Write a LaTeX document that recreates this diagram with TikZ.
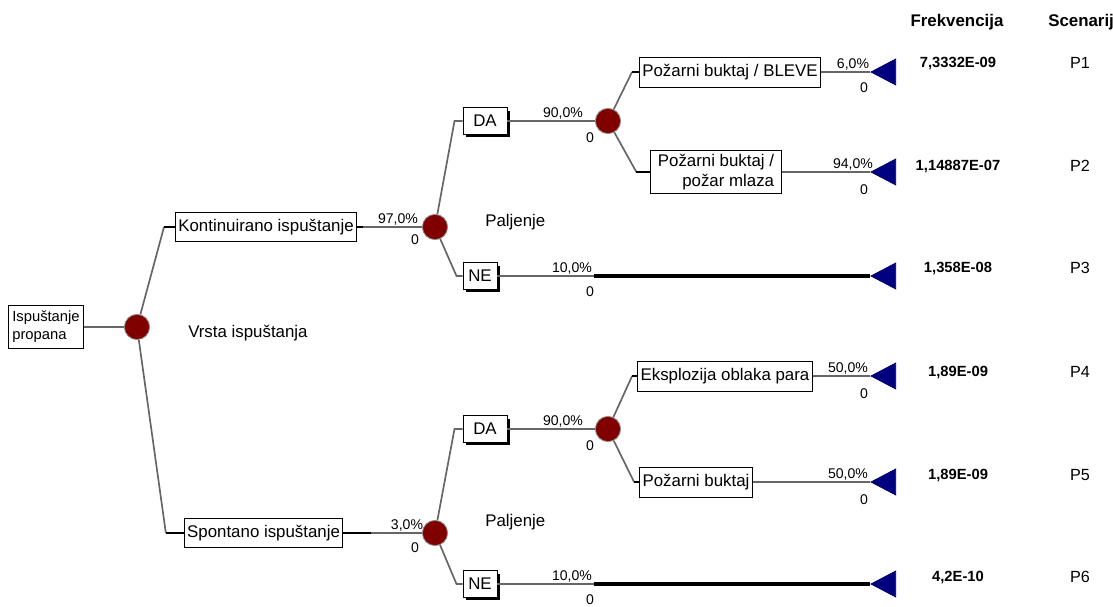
\documentclass[tikz,border=0pt]{standalone}
\usepackage{fontspec}
\setmainfont{Liberation Sans}
\usetikzlibrary{shapes.geometric,shadows}
\definecolor{chancered}{RGB}{128,0,0}
\definecolor{endblue}{RGB}{0,0,128}

\begin{document}
\begin{tikzpicture}[line width=0.8pt,
  evbox/.style={draw,fill=white,line width=0.7pt,inner xsep=2pt,inner ysep=3pt,minimum height=0.75cm,font=\fontsize{12}{14}\selectfont},
  yesno/.style={evbox,minimum height=0.66cm,drop shadow={shadow xshift=2pt,shadow yshift=-2pt,fill=black,opacity=1}},
  chance/.style={circle,fill=chancered,draw=black!45,line width=0.6pt,inner sep=0pt,minimum size=0.63cm},
  endtri/.style={isosceles triangle,isosceles triangle stretches,shape border rotate=180,fill=endblue,
    draw=endblue!70!black,line width=0.5pt,inner sep=0pt,minimum width=0.65cm,minimum height=0.62cm},
  branch/.style={draw=black!60,line width=1.2pt},
  stub/.style={draw=black,line width=1.6pt},
  heavy/.style={draw=black,line width=2.2pt},
  pct/.style={font=\fontsize{10}{12}\selectfont,inner sep=1pt,anchor=south},
  zero/.style={font=\fontsize{10}{12}\selectfont,inner sep=0pt},
  freq/.style={font=\fontsize{10.5}{12}\selectfont\bfseries},
  scen/.style={font=\fontsize{11.5}{13}\selectfont},
  colhead/.style={font=\fontsize{12}{14}\selectfont\bfseries},
  lbl/.style={font=\fontsize{12}{14}\selectfont,anchor=west}]
\useasboundingbox (0,0) rectangle (27.825,15.15);
% ================= root =================
\node[evbox,align=left,font=\fontsize{10.5}{13}\selectfont,inner xsep=2.5pt,inner ysep=4pt] (root) at (1.15,6.975) {Ispuštanje\\propana};
\node[chance] (c0) at (3.425,6.975) {};
\node[lbl] (vrsta) at (4.575,6.825) {Vrsta ispuštanja};
\draw[branch] (root) -- (c0);
% release type
\node[evbox,minimum height=0.72cm] (kont) at (6.65,9.475) {Kontinuirano ispuštanje};
\node[evbox,minimum height=0.72cm] (spont) at (6.59,1.825) {Spontano ispuštanje};
\draw[branch] (c0) -- ([xshift=-0.275cm]kont.west);
\draw[stub] ([xshift=-0.275cm]kont.west) -- (kont.west);
\draw[branch] (c0) -- ([xshift=-0.45cm]spont.west);
\draw[stub] ([xshift=-0.45cm]spont.west) -- (spont.west);
% ================= continuous release =================
\node[chance] (c1) at (10.875,9.475) {};
\draw[branch] (kont) -- (c1);
\draw[stub] (kont.east) -- ++(0.15,0);
\node[pct] (p1) at (9.95,9.475) {97,0\%};
\node[zero] (z1) at (10.375,9.15) {0};
\node[lbl] (palj1) at (12.0,9.6) {Paljenje};
\node[yesno,minimum width=1.1cm] (da1) at (12.125,12.125) {DA};
\node[yesno,minimum width=0.85cm] (ne1) at (12.0,8.25) {NE};
\draw[branch] (c1) -- ([xshift=-0.2cm]da1.west) -- (da1.west);
\draw[branch] (c1) -- ([xshift=-0.15cm]ne1.west) -- (ne1.west);
% ignition yes
\node[chance] (c2) at (15.2,12.125) {};
\draw[branch] (da1) -- (c2);
\node[pct] (p2) at (14.075,12.125) {90,0\%};
\node[zero] (z2) at (14.75,11.7) {0};
\node[evbox] (bleve) at (18.25,13.35) {Požarni buktaj / BLEVE};
\node[evbox,align=right,inner xsep=5pt] (mlaza) at (17.9,10.85) {Požarni buktaj /\\požar mlaza};
\draw[branch] (c2) -- ([xshift=-0.175cm]bleve.west);
\draw[stub] ([xshift=-0.175cm]bleve.west) -- (bleve.west);
\draw[branch] (c2) -- ([xshift=-0.35cm]mlaza.west);
\draw[stub] ([xshift=-0.35cm]mlaza.west) -- (mlaza.west);
\node[endtri,anchor=apex] (t1) at (21.75,13.35) {};
\node[endtri,anchor=apex] (t2) at (21.75,10.85) {};
\draw[branch] (bleve) -- (t1.apex);
\draw[branch] (mlaza) -- (t2.apex);
\node[pct] (p3) at (21.325,13.35) {6,0\%};
\node[zero] (z3) at (21.6,12.95) {0};
\node[pct] (p4) at (21.325,10.85) {94,0\%};
\node[zero] (z4) at (21.6,10.4) {0};
% ignition no
\node[endtri,anchor=apex] (t3) at (21.75,8.25) {};
\coordinate (m1) at (14.85,8.25);
\draw[branch] (ne1) -- (m1);
\draw[heavy] (m1) -- (t3.apex);
\node[pct] (p5) at (14.3,8.25) {10,0\%};
\node[zero] (z5) at (14.75,7.85) {0};
% ================= spontaneous release =================
\node[chance] (c3) at (10.875,1.825) {};
\draw[branch] (spont) -- (c3);
\draw[stub] (spont.east) -- ++(0.7,0);
\node[pct] (p6) at (10.175,1.825) {3,0\%};
\node[zero] (z6) at (10.375,1.45) {0};
\node[lbl] (palj2) at (12.0,2.1) {Paljenje};
\node[yesno,minimum width=1.1cm] (da2) at (12.125,4.425) {DA};
\node[yesno,minimum width=0.85cm] (ne2) at (12.0,0.55) {NE};
\draw[branch] (c3) -- ([xshift=-0.2cm]da2.west) -- (da2.west);
\draw[branch] (c3) -- ([xshift=-0.15cm]ne2.west) -- (ne2.west);
% ignition yes
\node[chance] (c4) at (15.2,4.425) {};
\draw[branch] (da2) -- (c4);
\node[pct] (p7) at (14.075,4.425) {90,0\%};
\node[zero] (z7) at (14.75,4.0) {0};
\node[evbox] (eksp) at (18.125,5.75) {Eksplozija oblaka para};
\node[evbox] (bukt) at (17.4,3.1) {Požarni buktaj};
\draw[branch] (c4) -- ([xshift=-0.13cm]eksp.west);
\draw[stub] ([xshift=-0.13cm]eksp.west) -- (eksp.west);
\draw[branch] (c4) -- ([xshift=-0.13cm]bukt.west);
\draw[stub] ([xshift=-0.13cm]bukt.west) -- (bukt.west);
\node[endtri,anchor=apex] (t4) at (21.75,5.75) {};
\node[endtri,anchor=apex] (t5) at (21.75,3.1) {};
\draw[branch] (eksp) -- (t4.apex);
\draw[branch] (bukt) -- (t5.apex);
\node[pct] (p8) at (21.2,5.75) {50,0\%};
\node[zero] (z8) at (21.6,5.3) {0};
\node[pct] (p9) at (21.2,3.1) {50,0\%};
\node[zero] (z9) at (21.6,2.65) {0};
% ignition no
\node[endtri,anchor=apex] (t6) at (21.75,0.55) {};
\coordinate (m2) at (14.85,0.55);
\draw[branch] (ne2) -- (m2);
\draw[heavy] (m2) -- (t6.apex);
\node[pct] (p10) at (14.3,0.55) {10,0\%};
\node[zero] (z10) at (14.75,0.15) {0};
% ================= result columns =================
\node[colhead] (hfreq) at (23.925,14.6) {Frekvencija};
\node[colhead,anchor=west] (hscen) at (26.075,14.6) {Scenarij};
\node[freq] (f1) at (23.95,13.575) {7,3332E-09};
\node[freq] (f2) at (23.95,11.0) {1,14887E-07};
\node[freq] (f3) at (23.95,8.45) {1,358E-08};
\node[freq] (f4) at (23.95,5.85) {1,89E-09};
\node[freq] (f5) at (23.95,3.275) {1,89E-09};
\node[freq] (f6) at (23.95,0.725) {4,2E-10};
\node[scen] (s1) at (27.0,13.575) {P1};
\node[scen] (s2) at (27.0,11.0) {P2};
\node[scen] (s3) at (27.0,8.45) {P3};
\node[scen] (s4) at (27.0,5.85) {P4};
\node[scen] (s5) at (27.0,3.275) {P5};
\node[scen] (s6) at (27.0,0.725) {P6};
\end{tikzpicture}
\end{document}
